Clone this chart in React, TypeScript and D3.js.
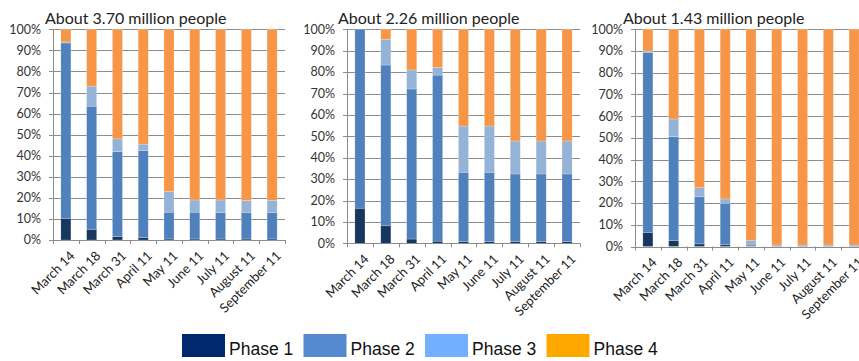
import React from "react";
import * as d3 from "d3";

// Survey dates shared by all three groups
const dates = [
  "March 14", "March 18", "March 31", "April 11", "May 11",
  "June 11", "July 11", "August 11", "September 11",
];

const phaseNames = ["Phase 1", "Phase 2", "Phase 3", "Phase 4"];
const yTickValues = [0, 10, 20, 30, 40, 50, 60, 70, 80, 90, 100];
const titles = [
  "About 3.70 million people",
  "About 2.26 million people",
  "About 1.43 million people",
];

// Share of people in each phase (%), group A
const groupAPhase1 = [10.3, 5.1, 1.6, 1.1, 0.5, 0.5, 0.5, 0.5, 0.5];
const groupAPhase2 = [83.2, 58.4, 40.4, 41.4, 12.7, 12.7, 12.6, 12.6, 12.6];
const groupAPhase3 = [0.5, 9.5, 6.0, 3.0, 9.8, 5.8, 5.9, 5.7, 5.7];
const groupAPhase4 = [6.0, 27.0, 52.0, 54.5, 77.0, 81.0, 81.0, 81.2, 81.2];

// Group B
const groupBPhase1 = [16.4, 8.2, 2.0, 1.0, 0.8, 0.8, 0.8, 0.8, 0.8];
const groupBPhase2 = [83.6, 75.1, 70.1, 77.6, 32.4, 32.4, 31.6, 31.6, 31.6];
const groupBPhase3 = [0.0, 12.0, 8.9, 3.6, 21.6, 21.6, 15.4, 15.4, 15.4];
const groupBPhase4 = [0.0, 4.7, 19.0, 17.8, 45.2, 45.2, 52.2, 52.2, 52.2];

// Group C
const groupCPhase1 = [6.5, 2.7, 1.2, 0.8, 0.1, 0.1, 0.1, 0.1, 0.1];
const groupCPhase2 = [82.9, 47.9, 21.7, 19.1, 0.6, 0.5, 0.5, 0.5, 0.5];
const groupCPhase3 = [0.6, 8.1, 4.2, 2.0, 2.0, 0.1, 0.1, 0.1, 0.1];
const groupCPhase4 = [10.0, 41.3, 72.9, 78.1, 97.3, 99.3, 99.3, 99.3, 99.3];

const groups = [
  [groupAPhase1, groupAPhase2, groupAPhase3, groupAPhase4],
  [groupBPhase1, groupBPhase2, groupBPhase3, groupBPhase4],
  [groupCPhase1, groupCPhase2, groupCPhase3, groupCPhase4],
];

const barColors = ["#17375e", "#4f81bd", "#95b3d7", "#f79646"];
const legendColors = ["#00286f", "#5589d0", "#70b0ff", "#ffa800"];

// Plot frames for the three panels
const frames = [
  { left: 53, right: 285, top: 29.3, bottom: 240, titleX: 45 },
  { left: 347, right: 580, top: 29.3, bottom: 243.3, titleX: 338 },
  { left: 635, right: 867, top: 29.3, bottom: 246.5, titleX: 623 },
];

const W = 859;
const H = 361;
const labelFont = "Lato, 'Open Sans', sans-serif";
const gridColor = "#8c8c8c";

type Row = { date: string; [k: string]: number | string };

function Panel({ idx }: { idx: number }) {
  const f = frames[idx];
  const series = groups[idx];
  const rows: Row[] = dates.map((d, i) => {
    const r: Row = { date: d };
    phaseNames.forEach((p, k) => (r[p] = series[k][i]));
    return r;
  });
  const stacked = d3.stack<Row>().keys(phaseNames)(rows as any);

  const x = d3
    .scaleBand<string>()
    .domain(dates)
    .range([f.left, f.right])
    .paddingInner(0.61)
    .paddingOuter(0.305);
  const y = d3.scaleLinear().domain([0, 100]).range([f.bottom, f.top]);
  const step = x.step();

  return (
    <g>
      <text
        x={f.titleX}
        y={23.5}
        fontFamily={labelFont}
        fontSize={16}
        fill="#222"
      >
        {titles[idx]}
      </text>
      {yTickValues.map((t) => (
        <g key={t}>
          <line
            x1={f.left - 4}
            x2={f.right}
            y1={Math.round(y(t)) + 0.5}
            y2={Math.round(y(t)) + 0.5}
            stroke={gridColor}
            strokeWidth={1}
          />
          <text
            x={f.left - 12}
            y={y(t)}
            dy="0.35em"
            textAnchor="end"
            fontFamily={labelFont}
            fontSize={12.5}
            fill="#333"
          >
            {t}%
          </text>
        </g>
      ))}
      <line
        x1={f.left + 0.5}
        x2={f.left + 0.5}
        y1={f.top}
        y2={f.bottom + 4}
        stroke={gridColor}
      />
      {dates.map((d, i) => (
        <line
          key={d}
          x1={Math.round(f.left + step * (i + 1)) + 0.5}
          x2={Math.round(f.left + step * (i + 1)) + 0.5}
          y1={f.bottom}
          y2={f.bottom + 4}
          stroke={gridColor}
        />
      ))}
      {stacked.map((s, k) => (
        <g key={k} fill={barColors[k]}>
          {s.map((seg, i) => {
            const h = y(seg[0]) - y(seg[1]);
            if (h <= 0) return null;
            return (
              <rect
                key={i}
                x={x(dates[i])}
                width={x.bandwidth()}
                y={y(seg[1])}
                height={h}
                stroke="#ffffff"
                strokeOpacity={0.35}
                strokeWidth={0.6}
              />
            );
          })}
        </g>
      ))}
      {dates.map((d) => {
        const cx = (x(d) as number) + x.bandwidth() / 2;
        return (
          <text
            key={d}
            transform={`translate(${cx + 3},${f.bottom + 10}) rotate(-45)`}
            textAnchor="end"
            dy="0.72em"
            fontFamily={labelFont}
            fontSize={13}
            fill="#222"
          >
            {d}
          </text>
        );
      })}
    </g>
  );
}

export default function App() {
  const legendX = d3.scaleLinear().domain([0, 1]).range([182, 303.5]);
  return (
    <svg
      width={W}
      height={H}
      style={{ position: "absolute", left: 0, top: 0, background: "#fff" }}
    >
      <rect width={W} height={H} fill="#fff" />
      {frames.map((_, i) => (
        <Panel key={i} idx={i} />
      ))}
      {phaseNames.map((p, i) => (
        <g key={p} transform={`translate(${legendX(i)},334)`}>
          <rect width={43} height={23} fill={legendColors[i]} />
          <text
            x={47}
            y={21}
            fontFamily="'Liberation Sans', Arial, sans-serif"
            fontSize={17.5}
            fill="#111"
          >
            {p}
          </text>
        </g>
      ))}
    </svg>
  );
}
